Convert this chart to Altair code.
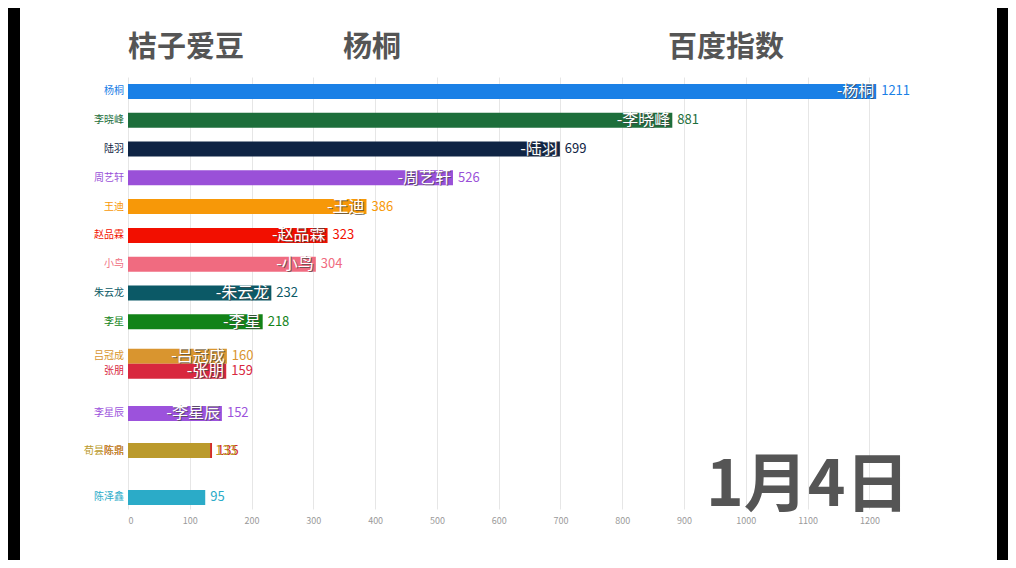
import altair as alt
import pandas as pd

# ---- data ----
names = ["杨桐", "李晓峰", "陆羽", "周艺轩", "王迪", "赵品霖", "小鸟", "朱云龙", "李星",
         "吕冠成", "张朋", "李星辰", "陈鼎", "荀昙陈鼎", "陈泽鑫"]
values = [1211, 881, 699, 526, 386, 323, 304, 232, 218, 160, 159, 152, 136, 133, 125]
shown = ["1211", "881", "699", "526", "386", "323", "304", "232", "218",
         "160", "159", "152", "135", "133", "95"]
rank = [1, 2, 3, 4, 5, 6, 7, 8, 9, 10.2, 10.72, 12.18, 13.47, 13.47, 15.1]
colors = ["#1a80e6", "#1d6e3b", "#0f2444", "#9a50d8", "#f79808", "#f20f00", "#f06b80",
          "#0b5966", "#128318", "#d9952f", "#d8283e", "#9c52dc", "#d42a2a", "#bb9a2c", "#2babc8"]
hidden_inner = ["荀昙陈鼎", "陈鼎", "陈泽鑫"]
ticks = [0, 100, 200, 300, 400, 500, 600, 700, 800, 900, 1000, 1100, 1200]

df = pd.DataFrame({"name": names, "value": values, "shown": shown, "rank": rank})
df["inner"] = ["-" + n if n not in hidden_inner else "" for n in names]

FONT = "Noto Sans CJK SC"
xs = alt.Scale(domain=[0, 1290], nice=False, padding=0)
ys = alt.Scale(domain=[0.5, 15.5], nice=False, zero=False, reverse=True, padding=0)
col = alt.Color("name:N", scale=alt.Scale(domain=names, range=colors), legend=None)

base = alt.Chart(df)

bars = base.mark_bar(size=15, orient="horizontal").encode(
    x=alt.X("value:Q", scale=xs,
            axis=alt.Axis(values=ticks, title=None, grid=True, gridColor="#e6e6e6",
                          domain=False, ticks=False, labelColor="#9a9a9a", format="d",
                          labelFontSize=9, labelPadding=7, labelFont=FONT)),
    x2=alt.datum(0),
    y=alt.Y("rank:Q", scale=ys, axis=None),
    color=col,
    order=alt.Order("rank:Q"),
)

vals = base.mark_text(align="left", baseline="middle", dx=5, fontSize=13, font=FONT).encode(
    x=alt.X("value:Q", scale=xs), y=alt.Y("rank:Q", scale=ys), text="shown:N", color=col)

shadow = base.mark_text(align="right", baseline="middle", dx=-1, dy=1, fontSize=16,
                        font=FONT, color="#444", opacity=0.7).encode(
    x=alt.X("value:Q", scale=xs), y=alt.Y("rank:Q", scale=ys), text="inner:N")
inner = base.mark_text(align="right", baseline="middle", dx=-2, fontSize=16,
                       font=FONT, color="white").encode(
    x=alt.X("value:Q", scale=xs), y=alt.Y("rank:Q", scale=ys), text="inner:N")

ylab = base.mark_text(align="right", baseline="middle", dx=-4, fontSize=10, font=FONT).encode(
    x=alt.value(0), y=alt.Y("rank:Q", scale=ys), text="name:N", color=col)

tdf = pd.DataFrame({"t": ["桔子爱豆", "杨桐", "百度指数"], "px": [0, 215, 540]})
titles = alt.Chart(tdf).mark_text(align="left", baseline="middle", fontSize=29,
                                   fontWeight="bold", font=FONT, color="#555555").encode(
    x=alt.X("px:Q", scale=None), y=alt.value(-29), text="t:N")

date = alt.Chart(pd.DataFrame({"t": ["1月4日"]})).mark_text(
    align="left", baseline="middle", fontSize=64, fontWeight="bold", font=FONT,
    color="#555555").encode(x=alt.value(578), y=alt.value(410), text="t:N")

frame = pd.DataFrame({"x1": [-120, 869], "x2": [-108, 880]})
black = alt.Chart(frame).mark_rect(color="black").encode(
    x=alt.X("x1:Q", scale=None), x2="x2:Q", y=alt.value(-69), y2=alt.value(483))

chart = alt.layer(bars, vals, shadow, inner, ylab, titles, date, black).properties(
    width=797, height=432,
    background="white",
    autosize=alt.AutoSizeParams(type="none"),
    padding={"left": 120, "top": 69, "right": 83, "bottom": 51},
).configure_view(stroke="transparent", strokeWidth=0)

chart.save("out.html", embed_options={"renderer": "svg", "actions": False})
